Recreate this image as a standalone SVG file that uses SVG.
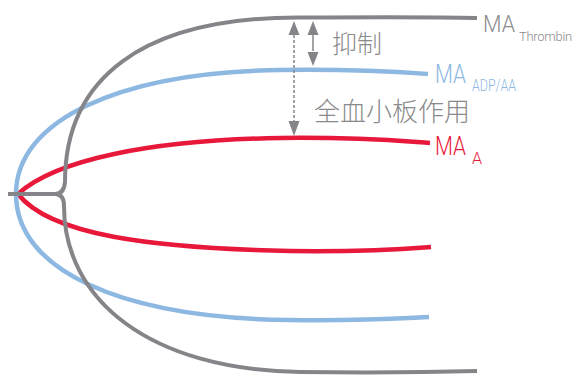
<svg xmlns="http://www.w3.org/2000/svg" width="575" height="377" viewBox="0 0 575 377">
<defs>
<style>
.c{fill:none;stroke-width:4.5;stroke-linecap:butt}
.g{stroke:#858589;stroke-width:4}
.b{stroke:#8cb8e2}
.r{stroke:#e8183a}
.t{font-family:Roboto,"Liberation Sans",sans-serif;font-weight:300}
.cjk{font-family:"Noto Sans CJK SC",sans-serif;font-weight:300;fill:#8a8a8c}
.ar{stroke:#858589;stroke-width:1.5;fill:none}
</style>
</defs>
<rect width="575" height="377" fill="#fff"/>
<g id="curves">
<g id="red"><path class="c r" d="M18,194 C55,160 150,140 280,138 C360,137 400,141 430,143"/><path class="c r" d="M18,194 C50,235 150,248 290,251 C370,252 405,249 431,247"/></g>
<g id="blue"><path class="c b" d="M16,194 C16,120 120,72 280,70 C360,69 400,72 428,74"/><path class="c b" d="M16,194 C16,270 120,318 290,320 C370,321 405,318 429,317"/></g>
<g id="gray"><path class="c g" d="M8,194 L55,194 Q64,194 65,182 C65,80 140,17 300,17.5 C380,17 440,17 477,18"/><path class="c g" d="M55,194 Q64,194 64,206 C64,300 150,370 300,372 C390,373 440,372 477,371"/></g>
</g>
<g id="connectors">
<line class="ar" x1="313" y1="35" x2="313" y2="51"/>
<path d="M307.5,35 L313,21 L318.5,35 Z M307.5,52 L313,66 L318.5,52 Z" fill="#858589"/>
<line class="ar" x1="294" y1="35" x2="294" y2="121" stroke-dasharray="3,2"/>
<path d="M288.5,35 L294,21 L299.5,35 Z M288.5,121 L294,136 L299.5,121 Z" fill="#858589"/>
</g>
<g id="labels">
<g id="label-thrombin" fill="#8a8a8c"><text class="t" x="483" y="32" font-size="24" textLength="32" lengthAdjust="spacingAndGlyphs">MA</text><text class="t" x="519" y="41" font-size="13" letter-spacing="-0.3">Thrombin</text></g>
<g id="label-adp" fill="#8cb8e2"><text class="t" x="435" y="83" font-size="25" textLength="31" lengthAdjust="spacingAndGlyphs">MA</text><text class="t" x="472" y="91" font-size="16" textLength="44" lengthAdjust="spacingAndGlyphs">ADP/AA</text></g>
<g id="label-a" fill="#e8183a"><text class="t" x="435" y="155" font-size="25" textLength="31" lengthAdjust="spacingAndGlyphs">MA</text><text class="t" x="472" y="164" font-size="16">A</text></g>
<text class="cjk" x="332" y="53" font-size="25">抑制</text>
<text class="cjk" x="314" y="121" font-size="26">全血小板作用</text>
</g>
</svg>
